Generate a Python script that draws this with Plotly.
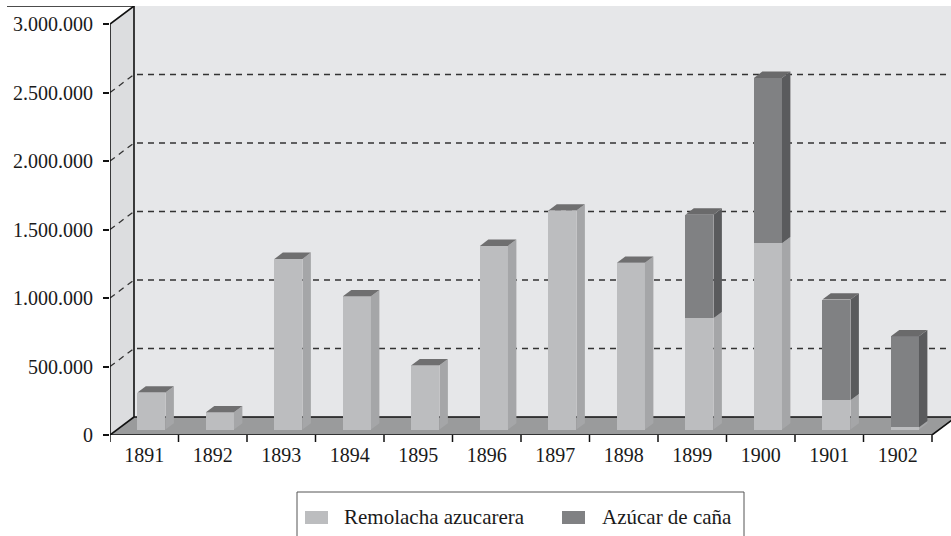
import plotly.graph_objects as go

# ---------------- data ----------------
years = ["1891", "1892", "1893", "1894", "1895", "1896",
         "1897", "1898", "1899", "1900", "1901", "1902"]
remolacha = [270000, 126000, 1246000, 973000, 469000, 1341000,
             1599000, 1217000, 812000, 1360000, 214000, 17000]
cana = [0, 0, 0, 0, 0, 0, 0, 0, 757000, 1207000, 735000, 664000]
y_ticks = [0, 500000, 1000000, 1500000, 2000000, 2500000, 3000000]
series_names = ["Remolacha azucarera", "Azúcar de caña"]

# ---------------- styling / geometry ----------------
FONT = "Liberation Serif, Times New Roman, Times, serif"
W, H = 951, 536
ML, MR, MB = 110, 0, 101
CAT_PX = 68.5          # px per category
PX_PER_M = 137.0       # px per 1,000,000
DEPTH_PX = (24, 18)
DX = DEPTH_PX[0] / CAT_PX
DY = DEPTH_PX[1] / PX_PER_M * 1e6
YMAX = y_ticks[-1]
plot_h = (YMAX + DY) / 1e6 * PX_PER_M
MT = H - MB - plot_h
plot_w = W - ML - MR
XR = [-0.5, -0.5 + plot_w / CAT_PX]
YR = [0, YMAX + DY]
N = len(years)
XFAR = XR[1] + 2

F0, FD, BW = 0.30, 0.35, 0.41

C_BACK = "#e6e7e9"
C_SIDE = "#dcdddf"
C_FLOOR = "#9a9b9c"
COLS = [dict(front="#bcbdbf", side="#a5a6a8", top="#6f6f70"),
        dict(front="#808183", side="#5a5b5d", top="#6a6a6b")]


def poly(pts):
    return "M " + " L ".join(f"{x},{y}" for x, y in pts) + " Z"


def line(pts):
    return "M " + " L ".join(f"{x},{y}" for x, y in pts)


shapes = []
# back wall, side wall, floor
shapes.append(dict(type="path", xref="x", yref="y", layer="below", line_width=0,
                   fillcolor=C_BACK,
                   path=poly([(-0.5 + DX, DY), (XFAR, DY), (XFAR, YMAX + DY), (-0.5 + DX, YMAX + DY)])))
shapes.append(dict(type="path", xref="x", yref="y", layer="below", line_width=0,
                   fillcolor=C_SIDE,
                   path=poly([(-0.5, 0), (-0.5, YMAX), (-0.5 + DX, YMAX + DY), (-0.5 + DX, DY)])))
shapes.append(dict(type="path", xref="x", yref="y", layer="below", line_width=0,
                   fillcolor=C_FLOOR,
                   path=poly([(-0.5, 0), (N - 0.5, 0), (N - 0.5 + DX, DY), (-0.5 + DX, DY)])))
# dashed gridlines
for v in y_ticks[1:-1]:
    shapes.append(dict(type="path", xref="x", yref="y", layer="below",
                       line=dict(color="#333333", width=1.3, dash="6px,5px"),
                       path=line([(-0.5, v), (-0.5 + DX, v + DY), (XFAR, v + DY)])))
# solid frame edges
edge = dict(color="#111111", width=1.6)
for pts in [
    [(-0.5, 0), (-0.5, YMAX), (-0.5 + DX, YMAX + DY)],
    [(-0.5 + DX, YMAX + DY), (-0.5 + DX, DY), (XFAR, DY)],
    [(-0.5, 0), (-0.5 + DX, DY)],
    [(-0.5, 0), (N - 0.5, 0), (N - 0.5 + DX, DY)],
]:
    shapes.append(dict(type="path", xref="x", yref="y", layer="below", line=edge, path=line(pts)))
# top border line across the whole chart
shapes.append(dict(type="line", xref="paper", yref="y", layer="below",
                   x0=(7 - ML) / plot_w, x1=1.05, y0=YMAX + DY, y1=YMAX + DY, line=edge))
# category boundary ticks
for b in range(N + 1):
    shapes.append(dict(type="line", xref="x", yref="paper", x0=b - 0.5, x1=b - 0.5,
                       y0=0, y1=-7 / plot_h, line=dict(color="#111111", width=1.5)))

fig = go.Figure()

# bars: front faces as Bar traces, sides / tops as polygons
for k, (vals, name) in enumerate(zip([remolacha, cana], series_names)):
    bases = [0] * N if k == 0 else remolacha
    fig.add_trace(go.Bar(
        x=[i + F0 * DX for i in range(N)], y=vals,
        base=[F0 * DY + b for b in bases], width=BW, name=name,
        marker=dict(color=COLS[k]["front"], line=dict(width=0)),
        showlegend=False, hoverinfo="skip"))

for i in range(N):
    segs = [(0, remolacha[i], COLS[0]), (remolacha[i], remolacha[i] + cana[i], COLS[1])]
    segs = [s for s in segs if s[1] > s[0]]
    xl = i + F0 * DX - BW / 2
    xr = i + F0 * DX + BW / 2
    ddx, ddy = FD * DX, FD * DY
    for j, (b0, b1, c) in enumerate(segs):
        y0, y1 = F0 * DY + b0, F0 * DY + b1
        sx = [xr, xr + ddx, xr + ddx, xr, xr]
        sy = [y0, y0 + ddy, y1 + ddy, y1, y0]
        fig.add_trace(go.Scatter(x=sx, y=sy, mode="lines", fill="toself",
                                 fillcolor=c["side"], line=dict(width=0),
                                 showlegend=False, hoverinfo="skip"))
        if j == len(segs) - 1:
            tx = [xl, xr, xr + ddx, xl + ddx, xl]
            ty = [y1, y1, y1 + ddy, y1 + ddy, y1]
            fig.add_trace(go.Scatter(x=tx, y=ty, mode="lines", fill="toself",
                                     fillcolor=c["top"], line=dict(width=0),
                                     showlegend=False, hoverinfo="skip"))

# manual legend (box runs off the bottom edge as in the reference)
def px2paper_x(px):
    return (px - ML) / plot_w


def py2paper_y(py):
    return (H - MB - py) / plot_h


shapes.append(dict(type="rect", xref="paper", yref="paper",
                   x0=px2paper_x(297), x1=px2paper_x(744),
                   y0=py2paper_y(560), y1=py2paper_y(492),
                   line=dict(color="#555555", width=1), fillcolor="white"))
annotations = []
for k, (sx0, tx0) in enumerate([(305, 342), (562, 600)]):
    shapes.append(dict(type="rect", xref="paper", yref="paper",
                       x0=px2paper_x(sx0), x1=px2paper_x(sx0 + 23),
                       y0=py2paper_y(524), y1=py2paper_y(511),
                       line=dict(width=0), fillcolor=COLS[k]["front"]))
    annotations.append(dict(xref="paper", yref="paper", x=px2paper_x(tx0), y=py2paper_y(517),
                            xanchor="left", yanchor="middle", showarrow=False,
                            text=series_names[k],
                            font=dict(family=FONT, size=21, color="#1a1a1a")))

fig.update_layout(
    width=W, height=H,
    margin=dict(l=ML, r=MR, t=MT, b=MB, pad=0),
    paper_bgcolor="white", plot_bgcolor="rgba(0,0,0,0)",
    barmode="overlay", bargap=0,
    separators=",.",
    showlegend=False,
    shapes=shapes, annotations=annotations,
    font=dict(family=FONT, size=20, color="#1a1a1a"),
    xaxis=dict(range=XR, tickmode="array", tickvals=list(range(N)), ticktext=years,
               ticks="outside", ticklen=2, tickcolor="rgba(0,0,0,0)",
               showgrid=False, zeroline=False, showline=False, fixedrange=True,
               tickfont=dict(family=FONT, size=20, color="#1a1a1a")),
    yaxis=dict(range=YR, tickmode="array", tickvals=y_ticks, tickformat=",d",
               ticks="outside", ticklen=6, tickwidth=1.5, tickcolor="#111111",
               ticklabelstandoff=6,
               showgrid=False, zeroline=False, showline=False, fixedrange=True,
               tickfont=dict(family=FONT, size=20, color="#1a1a1a")),
)

fig.write_html("out.html", config={"displayModeBar": False},
               post_script="document.body.style.margin='0';document.body.style.padding='0';")
